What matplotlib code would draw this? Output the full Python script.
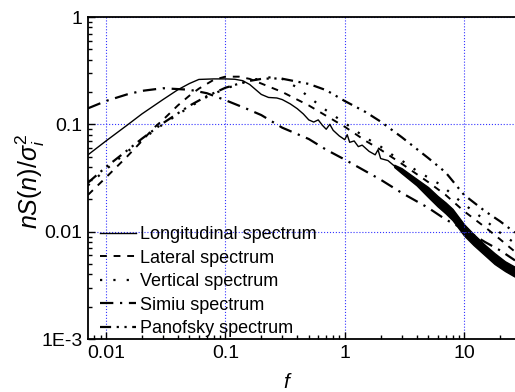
import matplotlib
matplotlib.use("Agg")
import matplotlib.pyplot as plt

plt.rcParams["font.family"] = ["Liberation Sans", "DejaVu Sans"]
plt.rcParams["mathtext.fontset"] = "custom"
plt.rcParams["mathtext.it"] = "Liberation Sans:italic"
plt.rcParams["mathtext.rm"] = "Liberation Sans"

# --- data (f, nS/sigma^2) ---
long_f = [0.00707, 0.01, 0.015, 0.02, 0.03, 0.04, 0.05, 0.06, 0.08, 0.1, 0.12, 0.14,
          0.16, 0.18, 0.2, 0.23, 0.27, 0.3, 0.35, 0.4, 0.45, 0.5, 0.55, 0.6, 0.65,
          0.7, 0.75, 0.8, 0.9, 1.0, 1.05, 1.1, 1.2, 1.3, 1.4, 1.6, 1.8, 1.9, 2.0,
          2.3, 2.6, 3.0]
long_s = [0.052, 0.070, 0.098, 0.125, 0.17, 0.21, 0.24, 0.262, 0.265, 0.265, 0.263, 0.255,
          0.235, 0.21, 0.19, 0.178, 0.176, 0.17, 0.155, 0.14, 0.125, 0.11, 0.105, 0.11, 0.098,
          0.09, 0.1, 0.088, 0.078, 0.072, 0.08, 0.068, 0.07, 0.062, 0.064, 0.056, 0.052, 0.058, 0.048,
          0.046, 0.041, 0.037]
# noisy high-frequency band of the longitudinal spectrum (envelopes)
band_f = [2.6, 3, 4, 5, 6, 7, 8, 10, 12, 15, 18, 22, 26.7]
band_hi = [0.042, 0.039, 0.031, 0.026, 0.0215, 0.0187, 0.0163, 0.0117, 0.0095, 0.0075, 0.0063, 0.0053, 0.0047]
band_lo = [0.040, 0.035, 0.027, 0.021, 0.0172, 0.0148, 0.0128, 0.0092, 0.0075, 0.0060, 0.0050, 0.0043, 0.0038]

lat_f = [0.00707, 0.01, 0.015, 0.02, 0.025, 0.03, 0.04, 0.05, 0.06, 0.08, 0.1, 0.13, 0.16,
         0.2, 0.3, 0.4, 0.5, 0.7, 1, 1.5, 2, 3, 5, 7, 10, 15, 20, 26.7]
lat_s = [0.022, 0.032, 0.05, 0.07, 0.092, 0.11, 0.15, 0.185, 0.215, 0.26, 0.278, 0.278, 0.265,
         0.24, 0.2, 0.17, 0.15, 0.12, 0.095, 0.07, 0.058, 0.043, 0.029, 0.022, 0.0155, 0.011, 0.0085, 0.0065]

ver_f = [0.00707, 0.01, 0.02, 0.03, 0.05, 0.07, 0.1, 0.15, 0.2, 0.25, 0.3, 0.4, 0.5, 0.7,
         1, 1.5, 2, 2.5, 3, 4, 5, 6.5, 8, 10, 15, 20, 26.7]
ver_s = [0.027, 0.038, 0.072, 0.1, 0.145, 0.18, 0.215, 0.25, 0.27, 0.275, 0.265, 0.22, 0.18, 0.135,
         0.103, 0.075, 0.062, 0.052, 0.046, 0.037, 0.032, 0.027, 0.022, 0.018, 0.0128, 0.0098, 0.0078]

sim_f = [0.00707, 0.01, 0.015, 0.02, 0.03, 0.05, 0.07, 0.1, 0.15, 0.2, 0.3, 0.5, 0.7, 1,
         2, 3, 5, 7, 10, 15, 20, 26.7]
sim_s = [0.141, 0.165, 0.19, 0.205, 0.217, 0.21, 0.195, 0.168, 0.14, 0.122, 0.093, 0.073, 0.058, 0.047,
         0.0305, 0.023, 0.0167, 0.013, 0.0105, 0.008, 0.0067, 0.0054]

pan_f = [0.00707, 0.01, 0.015, 0.02, 0.03, 0.05, 0.07, 0.1, 0.15, 0.2, 0.25, 0.3, 0.5, 0.7,
         1, 1.5, 2, 3, 5, 7, 10, 15, 20, 26.7]
pan_s = [0.0286, 0.040, 0.057, 0.0735, 0.1025, 0.149, 0.183, 0.219, 0.251, 0.265, 0.268, 0.266, 0.238, 0.208,
         0.165, 0.13, 0.106, 0.076, 0.0486, 0.0357, 0.022, 0.0155, 0.0125, 0.0098]

labels = ["Longitudinal spectrum", "Lateral spectrum", "Vertical spectrum",
          "Simiu spectrum", "Panofsky spectrum"]

fig = plt.figure(figsize=(5.15, 3.92), dpi=100)
ax = fig.add_axes([88 / 515, 1 - 339 / 392, 427 / 515, 322 / 392])

ax.plot(long_f, long_s, color="black", lw=1.0, label=labels[0])
ax.fill_between(band_f, band_lo, band_hi, color="black", lw=1.0)
ax.plot(lat_f, lat_s, color="black", lw=1.4, ls=(0, (3.5, 3.5)), label=labels[1])
ax.plot(ver_f, ver_s, color="black", lw=1.6, ls=(0, (1, 5)), label=labels[2])
ax.plot(sim_f, sim_s, color="black", lw=1.6, ls=(0, (6, 3, 1, 3)), label=labels[3])
ax.plot(pan_f, pan_s, color="black", lw=1.6, ls=(0, (5, 2.5, 1, 2.5, 1, 2.5)), label=labels[4])

ax.set_xscale("log"); ax.set_yscale("log")
ax.set_xlim(0.00707, 26.7)
ax.set_ylim(1e-3, 1)
ax.set_xticks([0.01, 0.1, 1, 10]); ax.set_xticklabels(["0.01", "0.1", "1", "10"])
ax.set_yticks([1e-3, 0.01, 0.1, 1]); ax.set_yticklabels(["1E-3", "0.01", "0.1", "1"])
ax.tick_params(which="both", direction="in", top=False, right=False, labelsize=14, width=1.0)
ax.tick_params(which="major", length=5, pad=4)
ax.tick_params(which="minor", length=3)
ax.grid(True, which="major", color="#3333ff", ls=":", lw=0.8)
ax.spines["right"].set_visible(False)
for s in ["left", "bottom", "top"]:
    ax.spines[s].set_linewidth(1.3)

ax.set_ylabel(r"$nS(n)/\sigma_i^2$", fontsize=18)
ax.yaxis.set_label_coords(-0.097, 0.49)
ax.set_xlabel(r"$f$", fontsize=15)
ax.xaxis.set_label_coords(0.468, -0.105)

ax.legend(loc="lower left", bbox_to_anchor=(0.028, 0.006), frameon=False, fontsize=13,
          handlelength=2.0, handletextpad=0.2, labelspacing=0.36, borderaxespad=0.0,
          borderpad=0.0)

fig.savefig("out.png", dpi=100)
